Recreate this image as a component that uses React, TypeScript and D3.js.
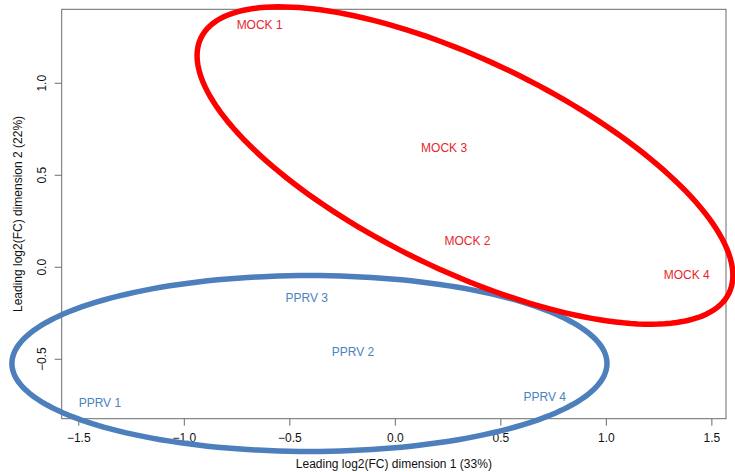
import React from "react";
import * as d3 from "d3";

const sampleNames = ["MOCK 1", "MOCK 2", "MOCK 3", "MOCK 4", "PPRV 1", "PPRV 2", "PPRV 3", "PPRV 4"];
const groups = ["MOCK", "MOCK", "MOCK", "MOCK", "PPRV", "PPRV", "PPRV", "PPRV"];
const dim1 = [-0.643, 0.342, 0.231, 1.381, -1.4, -0.201, -0.42, 0.708];
const dim2 = [1.317, 0.145, 0.647, -0.042, -0.739, -0.459, -0.165, -0.703];

const xTicks = [-1.5, -1.0, -0.5, 0.0, 0.5, 1.0, 1.5];
const yTicks = [-0.5, 0.0, 0.5, 1.0];

// ellipses: centre and two conjugate semi-diameters, in data units
const ellipseGroups = ["PPRV", "MOCK"];
const ellipseCenters = [[-0.407, -0.523], [0.33, 0.553]];
const ellipseAxisU = [[1.41, 0], [1.251, -0.694]];
const ellipseAxisV = [[0, 0.478], [-0.216, -0.512]];

const xTitle = "Leading log2(FC) dimension 1 (33%)";
const yTitle = "Leading log2(FC) dimension 2 (22%)";

const W = 735;
const H = 472;
const plot = { left: 61.7, right: 726, top: 9.3, bottom: 418.7 };

const textColor: Record<string, string> = { MOCK: "#E8262B", PPRV: "#4A84BE" };
const lineColor: Record<string, string> = { MOCK: "#FF0000", PPRV: "#4C7FBC" };

const fmt = (v: number) => v.toFixed(1).replace("-", "\u2212");

export default function App() {
  const x = d3.scaleLinear().domain([-1.581, 1.567]).range([plot.left, plot.right]);
  const y = d3.scaleLinear().domain([-0.823, 1.402]).range([plot.bottom, plot.top]);
  const font = "'Liberation Sans', Arial, Helvetica, sans-serif";

  const ts = d3.range(0, 361, 2).map((d) => (d * Math.PI) / 180);
  const line = d3
    .line<[number, number]>()
    .x((d) => x(d[0]))
    .y((d) => y(d[1]))
    .curve(d3.curveLinearClosed);

  const ellipsePaths = ellipseGroups.map((g, i) => {
    const c = ellipseCenters[i];
    const u = ellipseAxisU[i];
    const v = ellipseAxisV[i];
    const pts = ts.map((t) => [
      c[0] + Math.cos(t) * u[0] + Math.sin(t) * v[0],
      c[1] + Math.cos(t) * u[1] + Math.sin(t) * v[1],
    ] as [number, number]);
    return { g, d: line(pts) || "" };
  });

  return (
    <svg
      width={W}
      height={H}
      style={{ position: "absolute", left: 0, top: 0, background: "#fff" }}
      fontFamily={font}
    >
      <rect x={0} y={0} width={W} height={H} fill="#fff" />
      {sampleNames.map((n, i) => (
        <text
          key={n}
          x={x(dim1[i])}
          y={y(dim2[i])}
          dy="0.35em"
          textAnchor="middle"
          fontSize={12}
          fill={textColor[groups[i]]}
        >
          {n}
        </text>
      ))}
      <rect
        x={plot.left}
        y={plot.top}
        width={plot.right - plot.left}
        height={plot.bottom - plot.top}
        fill="none"
        stroke="#6b6b6b"
        strokeWidth={1}
      />
      {xTicks.map((t) => (
        <g key={"x" + t}>
          <line x1={x(t)} x2={x(t)} y1={plot.bottom} y2={plot.bottom + 7} stroke="#6b6b6b" />
          <text x={x(t)} y={437.3} dy="0.35em" textAnchor="middle" fontSize={12} fill="#111">
            {fmt(t)}
          </text>
        </g>
      ))}
      {yTicks.map((t) => (
        <g key={"y" + t}>
          <line x1={plot.left - 7} x2={plot.left} y1={y(t)} y2={y(t)} stroke="#6b6b6b" />
          <text
            transform={`translate(41.7,${y(t)}) rotate(-90)`}
            dy="0.35em"
            textAnchor="middle"
            fontSize={12}
            fill="#111"
          >
            {fmt(t)}
          </text>
        </g>
      ))}
      <text x={(plot.left + plot.right) / 2} y={463.3} dy="0.35em" textAnchor="middle" fontSize={12} fill="#111">
        {xTitle}
      </text>
      <text
        transform={`translate(17.5,${(plot.top + plot.bottom) / 2}) rotate(-90)`}
        dy="0.35em"
        textAnchor="middle"
        fontSize={12}
        fill="#111"
      >
        {yTitle}
      </text>
      {ellipsePaths.map((e) => (
        <path key={e.g} d={e.d} fill="none" stroke={lineColor[e.g]} strokeWidth={5.5} />
      ))}
    </svg>
  );
}
